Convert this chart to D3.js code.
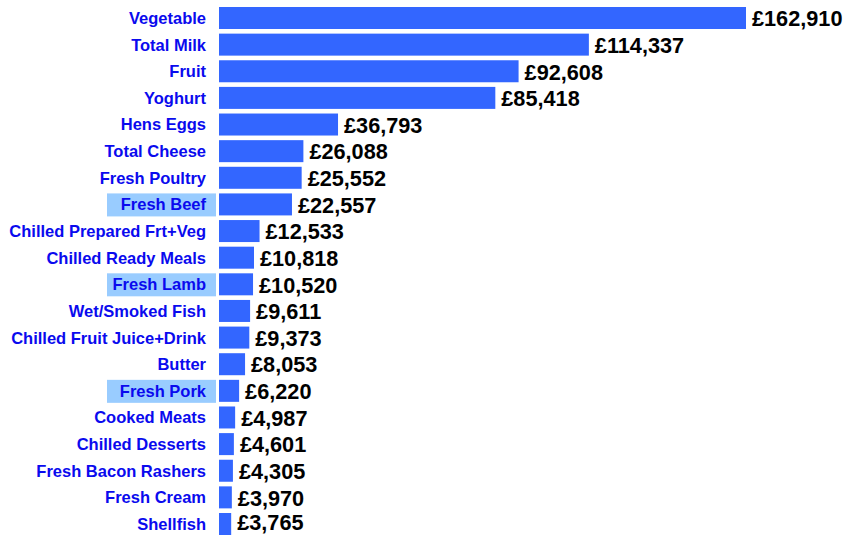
<!DOCTYPE html>
<html>
<head>
<meta charset="utf-8">
<script src="https://cdn.jsdelivr.net/npm/d3@7"></script>
<style>
  html, body { margin: 0; padding: 0; background: #ffffff; }
  svg { display: block; }
  text { font-family: "Liberation Sans", Arial, sans-serif; font-weight: bold; }
</style>
</head>
<body>
<svg id="chart" width="845" height="536"></svg>
<script>
const categories = [
  "Vegetable", "Total Milk", "Fruit", "Yoghurt", "Hens Eggs", "Total Cheese",
  "Fresh Poultry", "Fresh Beef", "Chilled Prepared Frt+Veg", "Chilled Ready Meals",
  "Fresh Lamb", "Wet/Smoked Fish", "Chilled Fruit Juice+Drink", "Butter",
  "Fresh Pork", "Cooked Meats", "Chilled Desserts", "Fresh Bacon Rashers",
  "Fresh Cream", "Shellfish"
];
const values = [
  162910, 114337, 92608, 85418, 36793, 26088,
  25552, 22557, 12533, 10818,
  10520, 9611, 9373, 8053,
  6220, 4987, 4601, 4305,
  3970, 3765
];
const highlighted = ["Fresh Beef", "Fresh Lamb", "Fresh Pork"];

const data = categories.map((c, i) => ({ cat: c, val: values[i] }));

const W = 845, H = 536;
const svg = d3.select("#chart");
const x0 = 219;
const x = d3.scaleLinear().domain([0, 162910]).range([x0, 746]);
const y = d3.scaleBand().domain(categories).range([7, 535]).paddingInner(0.174).paddingOuter(0);

// highlight boxes behind labels
svg.append("g").selectAll("rect")
  .data(data.filter(d => highlighted.includes(d.cat)))
  .join("rect")
  .attr("x", 107)
  .attr("width", 109)
  .attr("y", d => y(d.cat))
  .attr("height", y.bandwidth() + 1)
  .attr("fill", "#99ccff");

// bars
svg.append("g").selectAll("rect")
  .data(data)
  .join("rect")
  .attr("x", x(0))
  .attr("y", d => y(d.cat))
  .attr("width", d => x(d.val) - x(0))
  .attr("height", y.bandwidth())
  .attr("fill", "#3366ff");

// category labels
svg.append("g").selectAll("text")
  .data(data)
  .join("text")
  .attr("x", 206)
  .attr("y", d => y(d.cat) + y.bandwidth() / 2)
  .attr("dy", "0.36em")
  .attr("text-anchor", "end")
  .attr("font-size", 16.5)
  .attr("fill", "#0a0aee")
  .text(d => d.cat);

// value labels (baseline kept inside the chart area)
const fmt = d3.format(",");
const vfs = 21.7;
svg.append("g").selectAll("text")
  .data(data)
  .join("text")
  .attr("x", d => x(d.val) + 6)
  .attr("y", d => Math.min(y(d.cat) + y.bandwidth() / 2 + 0.38 * vfs, H - 6))
  .attr("font-size", vfs)
  .attr("fill", "#000000")
  .text(d => "£" + fmt(d.val));
</script>
</body>
</html>
